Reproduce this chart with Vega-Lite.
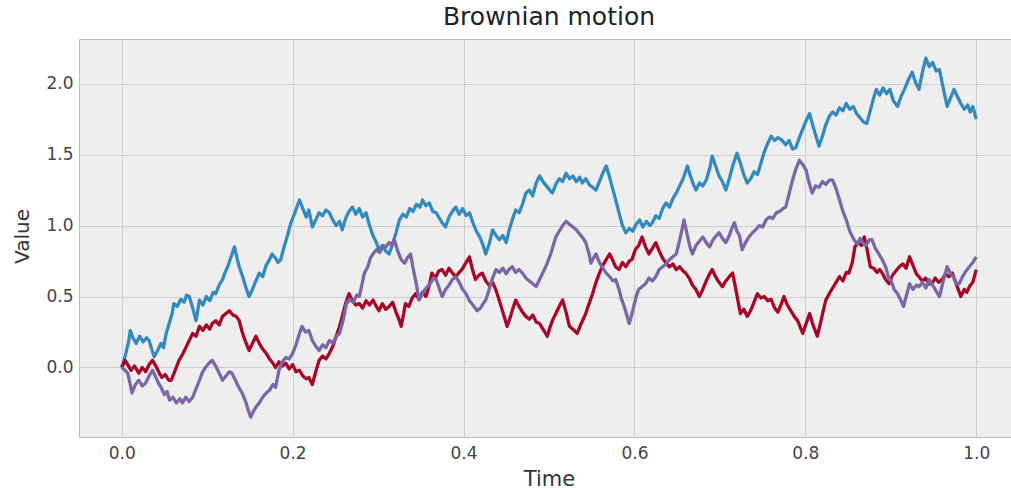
{
"$schema": "https://vega.github.io/schema/vega-lite/v6.json",
"autosize": {"type": "none"},
"padding": {"left": 79, "top": 39, "right": 0, "bottom": 53},
"width": 932,
"height": 398,
"background": "white",
"title": {"text": "Brownian motion", "font": "DejaVu Sans", "fontSize": 25, "fontWeight": "normal", "color": "#222222", "anchor": "middle", "dx": 4, "offset": 9},
"config": {
  "view": {"fill": "#eeeeee", "stroke": "#bcbcbc", "strokeWidth": 1},
  "axis": {"labelFont": "DejaVu Sans", "titleFont": "DejaVu Sans", "labelColor": "#444444", "titleColor": "#333333", "titleFontWeight": "normal", "gridColor": "#cfcfcf", "gridWidth": 1, "domain": false, "tickColor": "#555555", "tickWidth": 1}
},
"datasets": {
"pts": [
{"series":"A","time":0.000,"value":0.00},{"series":"A","time":0.004,"value":0.08},{"series":"A","time":0.008,"value":0.18},{"series":"A","time":0.010,"value":0.26},{"series":"A","time":0.013,"value":0.21},{"series":"A","time":0.017,"value":0.17},{"series":"A","time":0.021,"value":0.22},{"series":"A","time":0.025,"value":0.18},{"series":"A","time":0.029,"value":0.21},{"series":"A","time":0.032,"value":0.19},{"series":"A","time":0.035,"value":0.13},{"series":"A","time":0.038,"value":0.075},{"series":"A","time":0.042,"value":0.12},{"series":"A","time":0.046,"value":0.17},{"series":"A","time":0.049,"value":0.14},{"series":"A","time":0.052,"value":0.24},{"series":"A","time":0.056,"value":0.32},{"series":"A","time":0.059,"value":0.38},{"series":"A","time":0.061,"value":0.45},{"series":"A","time":0.065,"value":0.43},{"series":"A","time":0.069,"value":0.48},{"series":"A","time":0.073,"value":0.46},{"series":"A","time":0.076,"value":0.51},{"series":"A","time":0.079,"value":0.50},{"series":"A","time":0.083,"value":0.42},{"series":"A","time":0.087,"value":0.33},{"series":"A","time":0.091,"value":0.475},{"series":"A","time":0.095,"value":0.44},{"series":"A","time":0.099,"value":0.50},{"series":"A","time":0.103,"value":0.47},{"series":"A","time":0.107,"value":0.53},{"series":"A","time":0.110,"value":0.52},{"series":"A","time":0.114,"value":0.58},{"series":"A","time":0.118,"value":0.62},{"series":"A","time":0.121,"value":0.67},{"series":"A","time":0.124,"value":0.71},{"series":"A","time":0.128,"value":0.78},{"series":"A","time":0.132,"value":0.85},{"series":"A","time":0.135,"value":0.77},{"series":"A","time":0.1375,"value":0.71},{"series":"A","time":0.141,"value":0.65},{"series":"A","time":0.145,"value":0.57},{"series":"A","time":0.149,"value":0.50},{"series":"A","time":0.153,"value":0.55},{"series":"A","time":0.157,"value":0.61},{"series":"A","time":0.161,"value":0.665},{"series":"A","time":0.165,"value":0.64},{"series":"A","time":0.169,"value":0.72},{"series":"A","time":0.173,"value":0.76},{"series":"A","time":0.176,"value":0.80},{"series":"A","time":0.180,"value":0.77},{"series":"A","time":0.183,"value":0.74},{"series":"A","time":0.186,"value":0.76},{"series":"A","time":0.190,"value":0.85},{"series":"A","time":0.194,"value":0.93},{"series":"A","time":0.198,"value":1.02},{"series":"A","time":0.202,"value":1.08},{"series":"A","time":0.205,"value":1.13},{"series":"A","time":0.208,"value":1.18},{"series":"A","time":0.212,"value":1.12},{"series":"A","time":0.216,"value":1.06},{"series":"A","time":0.219,"value":1.11},{"series":"A","time":0.223,"value":0.99},{"series":"A","time":0.227,"value":1.04},{"series":"A","time":0.231,"value":1.09},{"series":"A","time":0.235,"value":1.07},{"series":"A","time":0.239,"value":1.11},{"series":"A","time":0.243,"value":1.09},{"series":"A","time":0.247,"value":1.04},{"series":"A","time":0.251,"value":1.00},{"series":"A","time":0.255,"value":1.03},{"series":"A","time":0.258,"value":0.97},{"series":"A","time":0.262,"value":1.05},{"series":"A","time":0.266,"value":1.10},{"series":"A","time":0.270,"value":1.13},{"series":"A","time":0.274,"value":1.08},{"series":"A","time":0.278,"value":1.12},{"series":"A","time":0.282,"value":1.06},{"series":"A","time":0.286,"value":1.09},{"series":"A","time":0.290,"value":1.00},{"series":"A","time":0.294,"value":0.93},{"series":"A","time":0.298,"value":0.88},{"series":"A","time":0.301,"value":0.83},{"series":"A","time":0.305,"value":0.86},{"series":"A","time":0.309,"value":0.82},{"series":"A","time":0.313,"value":0.80},{"series":"A","time":0.317,"value":0.87},{"series":"A","time":0.321,"value":0.95},{"series":"A","time":0.325,"value":1.04},{"series":"A","time":0.329,"value":1.08},{"series":"A","time":0.333,"value":1.06},{"series":"A","time":0.337,"value":1.12},{"series":"A","time":0.341,"value":1.10},{"series":"A","time":0.345,"value":1.15},{"series":"A","time":0.349,"value":1.13},{"series":"A","time":0.352,"value":1.18},{"series":"A","time":0.356,"value":1.14},{"series":"A","time":0.360,"value":1.16},{"series":"A","time":0.364,"value":1.10},{"series":"A","time":0.368,"value":1.09},{"series":"A","time":0.372,"value":1.05},{"series":"A","time":0.375,"value":1.02},{"series":"A","time":0.379,"value":0.99},{"series":"A","time":0.383,"value":1.06},{"series":"A","time":0.387,"value":1.10},{"series":"A","time":0.391,"value":1.13},{"series":"A","time":0.395,"value":1.08},{"series":"A","time":0.399,"value":1.12},{"series":"A","time":0.403,"value":1.07},{"series":"A","time":0.407,"value":1.09},{"series":"A","time":0.411,"value":1.02},{"series":"A","time":0.415,"value":0.96},{"series":"A","time":0.419,"value":0.92},{"series":"A","time":0.423,"value":0.86},{"series":"A","time":0.426,"value":0.80},{"series":"A","time":0.430,"value":0.87},{"series":"A","time":0.434,"value":0.97},{"series":"A","time":0.438,"value":0.93},{"series":"A","time":0.442,"value":0.90},{"series":"A","time":0.446,"value":0.93},{"series":"A","time":0.450,"value":0.88},{"series":"A","time":0.453,"value":0.96},{"series":"A","time":0.457,"value":1.04},{"series":"A","time":0.461,"value":1.11},{"series":"A","time":0.465,"value":1.09},{"series":"A","time":0.469,"value":1.15},{"series":"A","time":0.473,"value":1.23},{"series":"A","time":0.477,"value":1.25},{"series":"A","time":0.481,"value":1.21},{"series":"A","time":0.485,"value":1.30},{"series":"A","time":0.489,"value":1.35},{"series":"A","time":0.493,"value":1.31},{"series":"A","time":0.497,"value":1.28},{"series":"A","time":0.501,"value":1.25},{"series":"A","time":0.504,"value":1.23},{"series":"A","time":0.508,"value":1.29},{"series":"A","time":0.512,"value":1.33},{"series":"A","time":0.516,"value":1.31},{"series":"A","time":0.520,"value":1.37},{"series":"A","time":0.524,"value":1.33},{"series":"A","time":0.528,"value":1.35},{"series":"A","time":0.532,"value":1.31},{"series":"A","time":0.536,"value":1.34},{"series":"A","time":0.539,"value":1.30},{"series":"A","time":0.543,"value":1.33},{"series":"A","time":0.547,"value":1.29},{"series":"A","time":0.551,"value":1.27},{"series":"A","time":0.555,"value":1.25},{"series":"A","time":0.559,"value":1.31},{"series":"A","time":0.563,"value":1.37},{"series":"A","time":0.567,"value":1.42},{"series":"A","time":0.571,"value":1.34},{"series":"A","time":0.575,"value":1.25},{"series":"A","time":0.579,"value":1.16},{"series":"A","time":0.582,"value":1.09},{"series":"A","time":0.586,"value":1.00},{"series":"A","time":0.590,"value":0.95},{"series":"A","time":0.594,"value":0.98},{"series":"A","time":0.598,"value":0.96},{"series":"A","time":0.602,"value":1.01},{"series":"A","time":0.606,"value":1.04},{"series":"A","time":0.610,"value":0.99},{"series":"A","time":0.614,"value":1.03},{"series":"A","time":0.618,"value":1.00},{"series":"A","time":0.621,"value":1.02},{"series":"A","time":0.625,"value":1.07},{"series":"A","time":0.629,"value":1.05},{"series":"A","time":0.633,"value":1.12},{"series":"A","time":0.637,"value":1.16},{"series":"A","time":0.641,"value":1.13},{"series":"A","time":0.645,"value":1.19},{"series":"A","time":0.649,"value":1.23},{"series":"A","time":0.653,"value":1.28},{"series":"A","time":0.657,"value":1.33},{"series":"A","time":0.662,"value":1.42},{"series":"A","time":0.665,"value":1.36},{"series":"A","time":0.669,"value":1.29},{"series":"A","time":0.672,"value":1.25},{"series":"A","time":0.676,"value":1.30},{"series":"A","time":0.680,"value":1.28},{"series":"A","time":0.684,"value":1.32},{"series":"A","time":0.688,"value":1.40},{"series":"A","time":0.691,"value":1.49},{"series":"A","time":0.695,"value":1.42},{"series":"A","time":0.699,"value":1.35},{"series":"A","time":0.703,"value":1.31},{"series":"A","time":0.707,"value":1.25},{"series":"A","time":0.711,"value":1.33},{"series":"A","time":0.715,"value":1.42},{"series":"A","time":0.720,"value":1.51},{"series":"A","time":0.724,"value":1.44},{"series":"A","time":0.728,"value":1.36},{"series":"A","time":0.732,"value":1.30},{"series":"A","time":0.736,"value":1.33},{"series":"A","time":0.740,"value":1.38},{"series":"A","time":0.744,"value":1.36},{"series":"A","time":0.748,"value":1.44},{"series":"A","time":0.752,"value":1.52},{"series":"A","time":0.756,"value":1.58},{"series":"A","time":0.760,"value":1.63},{"series":"A","time":0.764,"value":1.60},{"series":"A","time":0.768,"value":1.62},{"series":"A","time":0.773,"value":1.60},{"series":"A","time":0.777,"value":1.57},{"series":"A","time":0.781,"value":1.60},{"series":"A","time":0.785,"value":1.54},{"series":"A","time":0.789,"value":1.55},{"series":"A","time":0.793,"value":1.62},{"series":"A","time":0.797,"value":1.68},{"series":"A","time":0.801,"value":1.74},{"series":"A","time":0.805,"value":1.79},{"series":"A","time":0.809,"value":1.70},{"series":"A","time":0.813,"value":1.62},{"series":"A","time":0.816,"value":1.56},{"series":"A","time":0.820,"value":1.63},{"series":"A","time":0.824,"value":1.71},{"series":"A","time":0.828,"value":1.77},{"series":"A","time":0.832,"value":1.80},{"series":"A","time":0.836,"value":1.78},{"series":"A","time":0.840,"value":1.83},{"series":"A","time":0.844,"value":1.81},{"series":"A","time":0.848,"value":1.86},{"series":"A","time":0.852,"value":1.82},{"series":"A","time":0.856,"value":1.84},{"series":"A","time":0.860,"value":1.79},{"series":"A","time":0.864,"value":1.76},{"series":"A","time":0.868,"value":1.73},{"series":"A","time":0.872,"value":1.72},{"series":"A","time":0.876,"value":1.81},{"series":"A","time":0.880,"value":1.90},{"series":"A","time":0.883,"value":1.96},{"series":"A","time":0.887,"value":1.92},{"series":"A","time":0.891,"value":1.97},{"series":"A","time":0.895,"value":1.93},{"series":"A","time":0.899,"value":1.96},{"series":"A","time":0.903,"value":1.88},{"series":"A","time":0.908,"value":1.84},{"series":"A","time":0.912,"value":1.91},{"series":"A","time":0.916,"value":1.96},{"series":"A","time":0.920,"value":2.02},{"series":"A","time":0.925,"value":2.08},{"series":"A","time":0.929,"value":2.01},{"series":"A","time":0.933,"value":1.96},{"series":"A","time":0.937,"value":2.08},{"series":"A","time":0.941,"value":2.18},{"series":"A","time":0.945,"value":2.12},{"series":"A","time":0.949,"value":2.15},{"series":"A","time":0.953,"value":2.09},{"series":"A","time":0.957,"value":2.10},{"series":"A","time":0.961,"value":1.98},{"series":"A","time":0.966,"value":1.84},{"series":"A","time":0.970,"value":1.90},{"series":"A","time":0.974,"value":1.96},{"series":"A","time":0.978,"value":1.91},{"series":"A","time":0.982,"value":1.86},{"series":"A","time":0.986,"value":1.82},{"series":"A","time":0.990,"value":1.85},{"series":"A","time":0.993,"value":1.80},{"series":"A","time":0.996,"value":1.84},{"series":"A","time":1.000,"value":1.75},
{"series":"B","time":0.000,"value":0.00},{"series":"B","time":0.004,"value":0.05},{"series":"B","time":0.008,"value":0.01},{"series":"B","time":0.011,"value":-0.02},{"series":"B","time":0.015,"value":0.01},{"series":"B","time":0.020,"value":-0.04},{"series":"B","time":0.024,"value":0.00},{"series":"B","time":0.028,"value":-0.03},{"series":"B","time":0.032,"value":0.02},{"series":"B","time":0.036,"value":0.05},{"series":"B","time":0.040,"value":0.01},{"series":"B","time":0.044,"value":-0.04},{"series":"B","time":0.047,"value":-0.07},{"series":"B","time":0.051,"value":-0.05},{"series":"B","time":0.055,"value":-0.09},{"series":"B","time":0.058,"value":-0.09},{"series":"B","time":0.062,"value":-0.03},{"series":"B","time":0.067,"value":0.05},{"series":"B","time":0.071,"value":0.09},{"series":"B","time":0.075,"value":0.14},{"series":"B","time":0.079,"value":0.19},{"series":"B","time":0.083,"value":0.24},{"series":"B","time":0.087,"value":0.22},{"series":"B","time":0.091,"value":0.29},{"series":"B","time":0.095,"value":0.26},{"series":"B","time":0.099,"value":0.30},{"series":"B","time":0.103,"value":0.27},{"series":"B","time":0.106,"value":0.31},{"series":"B","time":0.110,"value":0.33},{"series":"B","time":0.114,"value":0.30},{"series":"B","time":0.118,"value":0.36},{"series":"B","time":0.122,"value":0.38},{"series":"B","time":0.126,"value":0.40},{"series":"B","time":0.130,"value":0.37},{"series":"B","time":0.134,"value":0.36},{"series":"B","time":0.1375,"value":0.33},{"series":"B","time":0.141,"value":0.25},{"series":"B","time":0.145,"value":0.18},{"series":"B","time":0.149,"value":0.12},{"series":"B","time":0.153,"value":0.17},{"series":"B","time":0.157,"value":0.22},{"series":"B","time":0.161,"value":0.17},{"series":"B","time":0.165,"value":0.13},{"series":"B","time":0.169,"value":0.10},{"series":"B","time":0.173,"value":0.06},{"series":"B","time":0.177,"value":0.03},{"series":"B","time":0.180,"value":0.00},{"series":"B","time":0.184,"value":0.04},{"series":"B","time":0.188,"value":0.01},{"series":"B","time":0.192,"value":0.03},{"series":"B","time":0.196,"value":-0.01},{"series":"B","time":0.200,"value":0.02},{"series":"B","time":0.204,"value":-0.03},{"series":"B","time":0.208,"value":-0.02},{"series":"B","time":0.212,"value":-0.06},{"series":"B","time":0.216,"value":-0.08},{"series":"B","time":0.219,"value":-0.07},{"series":"B","time":0.223,"value":-0.12},{"series":"B","time":0.227,"value":-0.03},{"series":"B","time":0.231,"value":0.05},{"series":"B","time":0.235,"value":0.08},{"series":"B","time":0.239,"value":0.06},{"series":"B","time":0.243,"value":0.10},{"series":"B","time":0.247,"value":0.15},{"series":"B","time":0.251,"value":0.22},{"series":"B","time":0.255,"value":0.29},{"series":"B","time":0.258,"value":0.36},{"series":"B","time":0.262,"value":0.45},{"series":"B","time":0.266,"value":0.52},{"series":"B","time":0.270,"value":0.47},{"series":"B","time":0.274,"value":0.44},{"series":"B","time":0.278,"value":0.45},{"series":"B","time":0.282,"value":0.42},{"series":"B","time":0.286,"value":0.47},{"series":"B","time":0.290,"value":0.44},{"series":"B","time":0.294,"value":0.475},{"series":"B","time":0.298,"value":0.43},{"series":"B","time":0.301,"value":0.40},{"series":"B","time":0.305,"value":0.45},{"series":"B","time":0.309,"value":0.41},{"series":"B","time":0.313,"value":0.43},{"series":"B","time":0.317,"value":0.46},{"series":"B","time":0.321,"value":0.39},{"series":"B","time":0.325,"value":0.33},{"series":"B","time":0.327,"value":0.29},{"series":"B","time":0.330,"value":0.38},{"series":"B","time":0.332,"value":0.45},{"series":"B","time":0.336,"value":0.43},{"series":"B","time":0.340,"value":0.49},{"series":"B","time":0.344,"value":0.52},{"series":"B","time":0.348,"value":0.48},{"series":"B","time":0.352,"value":0.53},{"series":"B","time":0.356,"value":0.50},{"series":"B","time":0.360,"value":0.58},{"series":"B","time":0.363,"value":0.665},{"series":"B","time":0.367,"value":0.63},{"series":"B","time":0.371,"value":0.68},{"series":"B","time":0.375,"value":0.69},{"series":"B","time":0.379,"value":0.65},{"series":"B","time":0.383,"value":0.70},{"series":"B","time":0.387,"value":0.665},{"series":"B","time":0.391,"value":0.64},{"series":"B","time":0.395,"value":0.67},{"series":"B","time":0.398,"value":0.69},{"series":"B","time":0.402,"value":0.73},{"series":"B","time":0.407,"value":0.78},{"series":"B","time":0.410,"value":0.70},{"series":"B","time":0.414,"value":0.62},{"series":"B","time":0.418,"value":0.65},{"series":"B","time":0.422,"value":0.665},{"series":"B","time":0.426,"value":0.61},{"series":"B","time":0.430,"value":0.58},{"series":"B","time":0.434,"value":0.60},{"series":"B","time":0.438,"value":0.545},{"series":"B","time":0.442,"value":0.47},{"series":"B","time":0.446,"value":0.39},{"series":"B","time":0.451,"value":0.29},{"series":"B","time":0.455,"value":0.36},{"series":"B","time":0.458,"value":0.42},{"series":"B","time":0.461,"value":0.475},{"series":"B","time":0.465,"value":0.43},{"series":"B","time":0.469,"value":0.39},{"series":"B","time":0.473,"value":0.36},{"series":"B","time":0.477,"value":0.34},{"series":"B","time":0.481,"value":0.37},{"series":"B","time":0.485,"value":0.32},{"series":"B","time":0.489,"value":0.31},{"series":"B","time":0.493,"value":0.27},{"series":"B","time":0.498,"value":0.22},{"series":"B","time":0.501,"value":0.28},{"series":"B","time":0.504,"value":0.33},{"series":"B","time":0.508,"value":0.38},{"series":"B","time":0.512,"value":0.43},{"series":"B","time":0.516,"value":0.475},{"series":"B","time":0.520,"value":0.39},{"series":"B","time":0.524,"value":0.29},{"series":"B","time":0.528,"value":0.27},{"series":"B","time":0.533,"value":0.24},{"series":"B","time":0.537,"value":0.30},{"series":"B","time":0.540,"value":0.34},{"series":"B","time":0.543,"value":0.38},{"series":"B","time":0.547,"value":0.45},{"series":"B","time":0.551,"value":0.52},{"series":"B","time":0.555,"value":0.60},{"series":"B","time":0.559,"value":0.665},{"series":"B","time":0.563,"value":0.72},{"series":"B","time":0.567,"value":0.76},{"series":"B","time":0.571,"value":0.80},{"series":"B","time":0.575,"value":0.75},{"series":"B","time":0.578,"value":0.71},{"series":"B","time":0.582,"value":0.69},{"series":"B","time":0.586,"value":0.74},{"series":"B","time":0.590,"value":0.71},{"series":"B","time":0.594,"value":0.75},{"series":"B","time":0.597,"value":0.76},{"series":"B","time":0.601,"value":0.83},{"series":"B","time":0.605,"value":0.86},{"series":"B","time":0.609,"value":0.92},{"series":"B","time":0.613,"value":0.85},{"series":"B","time":0.617,"value":0.80},{"series":"B","time":0.621,"value":0.84},{"series":"B","time":0.625,"value":0.88},{"series":"B","time":0.629,"value":0.82},{"series":"B","time":0.633,"value":0.77},{"series":"B","time":0.637,"value":0.735},{"series":"B","time":0.641,"value":0.71},{"series":"B","time":0.645,"value":0.73},{"series":"B","time":0.649,"value":0.69},{"series":"B","time":0.653,"value":0.71},{"series":"B","time":0.657,"value":0.68},{"series":"B","time":0.660,"value":0.665},{"series":"B","time":0.664,"value":0.63},{"series":"B","time":0.668,"value":0.58},{"series":"B","time":0.672,"value":0.55},{"series":"B","time":0.676,"value":0.50},{"series":"B","time":0.680,"value":0.55},{"series":"B","time":0.684,"value":0.61},{"series":"B","time":0.688,"value":0.66},{"series":"B","time":0.691,"value":0.69},{"series":"B","time":0.695,"value":0.64},{"series":"B","time":0.699,"value":0.60},{"series":"B","time":0.703,"value":0.57},{"series":"B","time":0.707,"value":0.61},{"series":"B","time":0.711,"value":0.64},{"series":"B","time":0.715,"value":0.665},{"series":"B","time":0.719,"value":0.54},{"series":"B","time":0.724,"value":0.38},{"series":"B","time":0.728,"value":0.41},{"series":"B","time":0.732,"value":0.36},{"series":"B","time":0.736,"value":0.40},{"series":"B","time":0.740,"value":0.46},{"series":"B","time":0.744,"value":0.52},{"series":"B","time":0.748,"value":0.49},{"series":"B","time":0.752,"value":0.50},{"series":"B","time":0.756,"value":0.47},{"series":"B","time":0.760,"value":0.48},{"series":"B","time":0.764,"value":0.42},{"series":"B","time":0.768,"value":0.39},{"series":"B","time":0.772,"value":0.45},{"series":"B","time":0.775,"value":0.50},{"series":"B","time":0.779,"value":0.44},{"series":"B","time":0.783,"value":0.40},{"series":"B","time":0.787,"value":0.36},{"series":"B","time":0.791,"value":0.33},{"series":"B","time":0.795,"value":0.27},{"series":"B","time":0.797,"value":0.24},{"series":"B","time":0.801,"value":0.31},{"series":"B","time":0.805,"value":0.38},{"series":"B","time":0.809,"value":0.30},{"series":"B","time":0.814,"value":0.22},{"series":"B","time":0.818,"value":0.32},{"series":"B","time":0.821,"value":0.40},{"series":"B","time":0.824,"value":0.475},{"series":"B","time":0.828,"value":0.52},{"series":"B","time":0.832,"value":0.56},{"series":"B","time":0.836,"value":0.60},{"series":"B","time":0.840,"value":0.64},{"series":"B","time":0.844,"value":0.61},{"series":"B","time":0.848,"value":0.67},{"series":"B","time":0.851,"value":0.665},{"series":"B","time":0.855,"value":0.74},{"series":"B","time":0.858,"value":0.85},{"series":"B","time":0.862,"value":0.88},{"series":"B","time":0.866,"value":0.86},{"series":"B","time":0.869,"value":0.92},{"series":"B","time":0.872,"value":0.84},{"series":"B","time":0.876,"value":0.71},{"series":"B","time":0.880,"value":0.70},{"series":"B","time":0.884,"value":0.67},{"series":"B","time":0.887,"value":0.69},{"series":"B","time":0.890,"value":0.665},{"series":"B","time":0.894,"value":0.62},{"series":"B","time":0.898,"value":0.59},{"series":"B","time":0.902,"value":0.65},{"series":"B","time":0.906,"value":0.68},{"series":"B","time":0.910,"value":0.71},{"series":"B","time":0.914,"value":0.73},{"series":"B","time":0.918,"value":0.70},{"series":"B","time":0.922,"value":0.78},{"series":"B","time":0.926,"value":0.72},{"series":"B","time":0.930,"value":0.66},{"series":"B","time":0.933,"value":0.64},{"series":"B","time":0.937,"value":0.61},{"series":"B","time":0.941,"value":0.63},{"series":"B","time":0.944,"value":0.59},{"series":"B","time":0.948,"value":0.59},{"series":"B","time":0.952,"value":0.63},{"series":"B","time":0.956,"value":0.60},{"series":"B","time":0.960,"value":0.62},{"series":"B","time":0.964,"value":0.66},{"series":"B","time":0.968,"value":0.64},{"series":"B","time":0.972,"value":0.665},{"series":"B","time":0.976,"value":0.60},{"series":"B","time":0.979,"value":0.55},{"series":"B","time":0.982,"value":0.50},{"series":"B","time":0.986,"value":0.55},{"series":"B","time":0.989,"value":0.53},{"series":"B","time":0.992,"value":0.57},{"series":"B","time":0.996,"value":0.60},{"series":"B","time":1.000,"value":0.69},
{"series":"C","time":0.000,"value":0.00},{"series":"C","time":0.004,"value":-0.02},{"series":"C","time":0.007,"value":-0.04},{"series":"C","time":0.010,"value":-0.12},{"series":"C","time":0.012,"value":-0.18},{"series":"C","time":0.016,"value":-0.12},{"series":"C","time":0.020,"value":-0.09},{"series":"C","time":0.024,"value":-0.13},{"series":"C","time":0.028,"value":-0.11},{"series":"C","time":0.032,"value":-0.06},{"series":"C","time":0.036,"value":-0.02},{"series":"C","time":0.040,"value":-0.07},{"series":"C","time":0.043,"value":-0.11},{"series":"C","time":0.046,"value":-0.14},{"series":"C","time":0.050,"value":-0.19},{"series":"C","time":0.053,"value":-0.17},{"series":"C","time":0.056,"value":-0.23},{"series":"C","time":0.060,"value":-0.21},{"series":"C","time":0.064,"value":-0.25},{"series":"C","time":0.068,"value":-0.22},{"series":"C","time":0.071,"value":-0.25},{"series":"C","time":0.075,"value":-0.21},{"series":"C","time":0.079,"value":-0.24},{"series":"C","time":0.083,"value":-0.21},{"series":"C","time":0.087,"value":-0.15},{"series":"C","time":0.091,"value":-0.09},{"series":"C","time":0.094,"value":-0.04},{"series":"C","time":0.098,"value":0.00},{"series":"C","time":0.102,"value":0.03},{"series":"C","time":0.106,"value":0.05},{"series":"C","time":0.110,"value":0.01},{"series":"C","time":0.114,"value":-0.04},{"series":"C","time":0.118,"value":-0.09},{"series":"C","time":0.122,"value":-0.06},{"series":"C","time":0.126,"value":-0.03},{"series":"C","time":0.129,"value":-0.04},{"series":"C","time":0.133,"value":-0.09},{"series":"C","time":0.137,"value":-0.14},{"series":"C","time":0.141,"value":-0.18},{"series":"C","time":0.145,"value":-0.24},{"series":"C","time":0.148,"value":-0.30},{"series":"C","time":0.151,"value":-0.35},{"series":"C","time":0.154,"value":-0.31},{"series":"C","time":0.158,"value":-0.27},{"series":"C","time":0.161,"value":-0.25},{"series":"C","time":0.165,"value":-0.21},{"series":"C","time":0.169,"value":-0.18},{"series":"C","time":0.173,"value":-0.16},{"series":"C","time":0.177,"value":-0.12},{"series":"C","time":0.180,"value":-0.14},{"series":"C","time":0.184,"value":-0.02},{"series":"C","time":0.188,"value":0.04},{"series":"C","time":0.192,"value":0.07},{"series":"C","time":0.196,"value":0.06},{"series":"C","time":0.200,"value":0.10},{"series":"C","time":0.204,"value":0.16},{"series":"C","time":0.208,"value":0.24},{"series":"C","time":0.211,"value":0.29},{"series":"C","time":0.215,"value":0.25},{"series":"C","time":0.219,"value":0.26},{"series":"C","time":0.223,"value":0.19},{"series":"C","time":0.227,"value":0.15},{"series":"C","time":0.231,"value":0.12},{"series":"C","time":0.235,"value":0.16},{"series":"C","time":0.239,"value":0.14},{"series":"C","time":0.243,"value":0.19},{"series":"C","time":0.247,"value":0.17},{"series":"C","time":0.251,"value":0.22},{"series":"C","time":0.255,"value":0.24},{"series":"C","time":0.259,"value":0.33},{"series":"C","time":0.263,"value":0.45},{"series":"C","time":0.267,"value":0.48},{"series":"C","time":0.271,"value":0.46},{"series":"C","time":0.275,"value":0.51},{"series":"C","time":0.278,"value":0.50},{"series":"C","time":0.281,"value":0.58},{"series":"C","time":0.284,"value":0.665},{"series":"C","time":0.288,"value":0.71},{"series":"C","time":0.291,"value":0.77},{"series":"C","time":0.294,"value":0.80},{"series":"C","time":0.298,"value":0.83},{"series":"C","time":0.302,"value":0.81},{"series":"C","time":0.306,"value":0.86},{"series":"C","time":0.309,"value":0.85},{"series":"C","time":0.313,"value":0.88},{"series":"C","time":0.316,"value":0.86},{"series":"C","time":0.319,"value":0.90},{"series":"C","time":0.323,"value":0.82},{"series":"C","time":0.327,"value":0.76},{"series":"C","time":0.331,"value":0.735},{"series":"C","time":0.334,"value":0.77},{"series":"C","time":0.338,"value":0.80},{"series":"C","time":0.341,"value":0.70},{"series":"C","time":0.345,"value":0.58},{"series":"C","time":0.348,"value":0.475},{"series":"C","time":0.352,"value":0.52},{"series":"C","time":0.355,"value":0.55},{"series":"C","time":0.358,"value":0.57},{"series":"C","time":0.362,"value":0.60},{"series":"C","time":0.365,"value":0.63},{"series":"C","time":0.368,"value":0.62},{"series":"C","time":0.372,"value":0.55},{"series":"C","time":0.375,"value":0.50},{"series":"C","time":0.379,"value":0.55},{"series":"C","time":0.383,"value":0.58},{"series":"C","time":0.387,"value":0.62},{"series":"C","time":0.391,"value":0.64},{"series":"C","time":0.395,"value":0.60},{"series":"C","time":0.399,"value":0.55},{"series":"C","time":0.403,"value":0.52},{"series":"C","time":0.407,"value":0.47},{"series":"C","time":0.411,"value":0.44},{"series":"C","time":0.416,"value":0.40},{"series":"C","time":0.420,"value":0.42},{"series":"C","time":0.423,"value":0.45},{"series":"C","time":0.426,"value":0.475},{"series":"C","time":0.430,"value":0.55},{"series":"C","time":0.434,"value":0.63},{"series":"C","time":0.438,"value":0.69},{"series":"C","time":0.442,"value":0.67},{"series":"C","time":0.446,"value":0.70},{"series":"C","time":0.450,"value":0.66},{"series":"C","time":0.453,"value":0.69},{"series":"C","time":0.457,"value":0.71},{"series":"C","time":0.461,"value":0.67},{"series":"C","time":0.465,"value":0.69},{"series":"C","time":0.469,"value":0.665},{"series":"C","time":0.473,"value":0.63},{"series":"C","time":0.477,"value":0.61},{"series":"C","time":0.481,"value":0.59},{"series":"C","time":0.485,"value":0.57},{"series":"C","time":0.489,"value":0.62},{"series":"C","time":0.493,"value":0.67},{"series":"C","time":0.498,"value":0.735},{"series":"C","time":0.502,"value":0.80},{"series":"C","time":0.505,"value":0.86},{"series":"C","time":0.508,"value":0.92},{"series":"C","time":0.512,"value":0.96},{"series":"C","time":0.516,"value":1.00},{"series":"C","time":0.520,"value":1.03},{"series":"C","time":0.524,"value":1.01},{"series":"C","time":0.528,"value":0.99},{"series":"C","time":0.532,"value":0.97},{"series":"C","time":0.536,"value":0.94},{"series":"C","time":0.540,"value":0.91},{"series":"C","time":0.543,"value":0.88},{"series":"C","time":0.547,"value":0.80},{"series":"C","time":0.549,"value":0.735},{"series":"C","time":0.552,"value":0.77},{"series":"C","time":0.555,"value":0.80},{"series":"C","time":0.559,"value":0.74},{"series":"C","time":0.563,"value":0.70},{"series":"C","time":0.567,"value":0.665},{"series":"C","time":0.571,"value":0.64},{"series":"C","time":0.575,"value":0.61},{"series":"C","time":0.578,"value":0.62},{"series":"C","time":0.582,"value":0.55},{"series":"C","time":0.585,"value":0.48},{"series":"C","time":0.588,"value":0.43},{"series":"C","time":0.591,"value":0.37},{"series":"C","time":0.594,"value":0.31},{"series":"C","time":0.598,"value":0.40},{"series":"C","time":0.602,"value":0.50},{"series":"C","time":0.605,"value":0.55},{"series":"C","time":0.609,"value":0.57},{"series":"C","time":0.613,"value":0.59},{"series":"C","time":0.617,"value":0.63},{"series":"C","time":0.621,"value":0.61},{"series":"C","time":0.625,"value":0.64},{"series":"C","time":0.629,"value":0.69},{"series":"C","time":0.633,"value":0.71},{"series":"C","time":0.637,"value":0.73},{"series":"C","time":0.641,"value":0.76},{"series":"C","time":0.645,"value":0.78},{"series":"C","time":0.649,"value":0.80},{"series":"C","time":0.653,"value":0.90},{"series":"C","time":0.656,"value":0.98},{"series":"C","time":0.658,"value":1.04},{"series":"C","time":0.662,"value":0.93},{"series":"C","time":0.665,"value":0.85},{"series":"C","time":0.668,"value":0.80},{"series":"C","time":0.672,"value":0.86},{"series":"C","time":0.676,"value":0.89},{"series":"C","time":0.680,"value":0.92},{"series":"C","time":0.684,"value":0.88},{"series":"C","time":0.688,"value":0.85},{"series":"C","time":0.692,"value":0.90},{"series":"C","time":0.696,"value":0.93},{"series":"C","time":0.699,"value":0.95},{"series":"C","time":0.703,"value":0.91},{"series":"C","time":0.707,"value":0.88},{"series":"C","time":0.711,"value":0.93},{"series":"C","time":0.714,"value":0.98},{"series":"C","time":0.717,"value":1.02},{"series":"C","time":0.720,"value":0.96},{"series":"C","time":0.723,"value":0.93},{"series":"C","time":0.726,"value":0.83},{"series":"C","time":0.730,"value":0.88},{"series":"C","time":0.734,"value":0.92},{"series":"C","time":0.738,"value":0.95},{"series":"C","time":0.742,"value":0.97},{"series":"C","time":0.746,"value":1.00},{"series":"C","time":0.750,"value":0.99},{"series":"C","time":0.754,"value":1.04},{"series":"C","time":0.758,"value":1.06},{"series":"C","time":0.762,"value":1.05},{"series":"C","time":0.766,"value":1.09},{"series":"C","time":0.770,"value":1.10},{"series":"C","time":0.774,"value":1.12},{"series":"C","time":0.777,"value":1.13},{"series":"C","time":0.780,"value":1.20},{"series":"C","time":0.785,"value":1.32},{"series":"C","time":0.789,"value":1.40},{"series":"C","time":0.793,"value":1.46},{"series":"C","time":0.797,"value":1.43},{"series":"C","time":0.801,"value":1.39},{"series":"C","time":0.804,"value":1.31},{"series":"C","time":0.808,"value":1.23},{"series":"C","time":0.812,"value":1.28},{"series":"C","time":0.816,"value":1.27},{"series":"C","time":0.820,"value":1.31},{"series":"C","time":0.824,"value":1.29},{"series":"C","time":0.828,"value":1.32},{"series":"C","time":0.832,"value":1.32},{"series":"C","time":0.836,"value":1.26},{"series":"C","time":0.840,"value":1.18},{"series":"C","time":0.844,"value":1.10},{"series":"C","time":0.848,"value":1.04},{"series":"C","time":0.852,"value":0.96},{"series":"C","time":0.857,"value":0.90},{"series":"C","time":0.861,"value":0.87},{"series":"C","time":0.864,"value":0.91},{"series":"C","time":0.867,"value":0.88},{"series":"C","time":0.871,"value":0.86},{"series":"C","time":0.875,"value":0.90},{"series":"C","time":0.878,"value":0.90},{"series":"C","time":0.882,"value":0.84},{"series":"C","time":0.886,"value":0.80},{"series":"C","time":0.890,"value":0.76},{"series":"C","time":0.894,"value":0.71},{"series":"C","time":0.897,"value":0.64},{"series":"C","time":0.901,"value":0.60},{"series":"C","time":0.904,"value":0.55},{"series":"C","time":0.908,"value":0.52},{"series":"C","time":0.912,"value":0.47},{"series":"C","time":0.915,"value":0.43},{"series":"C","time":0.918,"value":0.50},{"series":"C","time":0.922,"value":0.59},{"series":"C","time":0.926,"value":0.55},{"series":"C","time":0.930,"value":0.58},{"series":"C","time":0.933,"value":0.57},{"series":"C","time":0.937,"value":0.60},{"series":"C","time":0.941,"value":0.56},{"series":"C","time":0.945,"value":0.62},{"series":"C","time":0.949,"value":0.58},{"series":"C","time":0.953,"value":0.54},{"series":"C","time":0.957,"value":0.50},{"series":"C","time":0.961,"value":0.60},{"series":"C","time":0.966,"value":0.71},{"series":"C","time":0.970,"value":0.66},{"series":"C","time":0.974,"value":0.63},{"series":"C","time":0.977,"value":0.59},{"series":"C","time":0.980,"value":0.59},{"series":"C","time":0.984,"value":0.64},{"series":"C","time":0.988,"value":0.68},{"series":"C","time":0.992,"value":0.71},{"series":"C","time":0.996,"value":0.74},{"series":"C","time":1.000,"value":0.78}
]
},
"data": {"name": "pts"},
"mark": {"type": "line", "strokeWidth": 3.3, "strokeJoin": "round", "clip": true},
"encoding": {
  "x": {"field": "time", "type": "quantitative", "scale": {"domain": [-0.05, 1.0407], "nice": false, "zero": false},
    "axis": {"values": [0, 0.2, 0.4, 0.6, 0.8, 1.0], "format": ".1f", "title": "Time", "labelFontSize": 17, "titleFontSize": 21, "ticks": false, "labelPadding": 8, "grid": true, "titleX": 470, "titleY": 42, "titleBaseline": "middle", "titleAnchor": "middle"}},
  "y": {"field": "value", "type": "quantitative", "scale": {"domain": [-0.49, 2.315], "nice": false, "zero": false},
    "axis": {"values": [0, 0.5, 1.0, 1.5, 2.0], "format": ".1f", "title": "Value", "labelFontSize": 17, "titleFontSize": 20, "ticks": false, "labelPadding": 6, "grid": true, "titleX": -57, "titleY": 197, "titleBaseline": "middle", "titleAngle": 270, "titleAlign": "center"}},
  "color": {"field": "series", "type": "nominal", "scale": {"domain": ["A", "B", "C"], "range": ["#348ABD", "#A60628", "#7A68A6"]}, "legend": null}
}
}
